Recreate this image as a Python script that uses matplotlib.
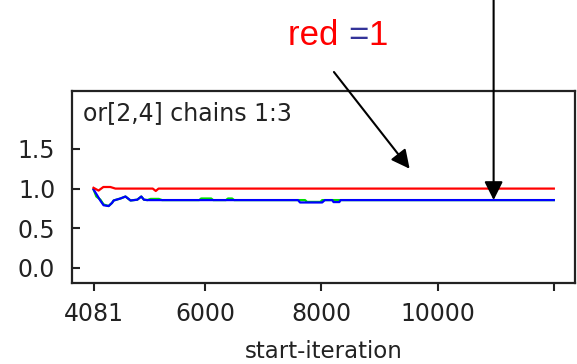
import matplotlib.pyplot as plt

plt.rcParams['font.family'] = ['DejaVu Sans']

# chain 1 (red)
red_x = [4081, 4168, 4250, 4371, 4458, 5100, 5152, 5200, 12000]
red_y = [1.01, 0.975, 1.02, 1.02, 1.0, 1.0, 0.97, 1.0, 1.0]

# chain 2 (green) - mostly hidden under blue
green_x = [4081, 4130, 4200, 4254, 4341, 4400, 4428, 4544, 4631, 4718, 4834,
           4903, 4948, 5007, 5065, 5205, 5260, 5900, 5933, 6106, 6140, 6360,
           6395, 6465, 6500, 7720, 7754, 7985, 8015, 12000]
green_y = [0.99, 0.90, 0.86, 0.80, 0.78, 0.82, 0.85, 0.875, 0.90, 0.85, 0.86,
           0.90, 0.86, 0.855, 0.87, 0.87, 0.855, 0.855, 0.875, 0.875, 0.855, 0.855,
           0.875, 0.875, 0.855, 0.855, 0.832, 0.832, 0.855, 0.855]

# chain 3 (blue)
blue_x = [4081, 4140, 4197, 4254, 4341, 4400, 4428, 4544, 4631, 4718, 4834,
          4903, 4948, 5007, 7600, 7633, 8015, 8060, 8187, 8210, 8310, 8332, 12000]
blue_y = [0.99, 0.92, 0.85, 0.79, 0.78, 0.82, 0.85, 0.875, 0.90, 0.85, 0.86,
          0.90, 0.86, 0.855, 0.855, 0.825, 0.825, 0.855, 0.855, 0.83, 0.83, 0.855, 0.855]

xticks = [4081, 6000, 8000, 10000, 12000]
xticklabels = ['4081', '6000', '8000', '10000', '']
yticks = [0.0, 0.5, 1.0, 1.5]
yticklabels = ['0.0', '0.5', '1.0', '1.5']

fig = plt.figure(figsize=(5.77, 3.64), dpi=100)
ax = fig.add_axes([72 / 577, 1 - 283 / 364, 503 / 577, 192 / 364])

ax.plot(green_x, green_y, color='#00dd00', lw=1.6)
ax.plot(blue_x, blue_y, color='#0000ff', lw=1.6)
ax.plot(red_x, red_y, color='#ff0000', lw=1.6)

ax.set_xlim(3711, 12364)
ax.set_ylim(-0.19, 2.23)

ax.set_xticks(xticks)
ax.set_xticklabels(xticklabels)
ax.set_yticks(yticks)
ax.set_yticklabels(yticklabels)
ax.tick_params(axis='x', direction='out', length=6, width=1.5, pad=8, labelsize=17,
               colors='#222222')
ax.tick_params(axis='y', direction='in', length=6, width=1.5, pad=12, labelsize=17,
               colors='#222222')
for s in ax.spines.values():
    s.set_linewidth(1.6)
    s.set_color('#222222')

ax.text(0.022, 0.95, 'or[2,4] chains 1:3', transform=ax.transAxes, va='top', ha='left',
        fontsize=17, color='#222222')

ax.set_xlabel('start-iteration', fontsize=16.5, color='#222222')
ax.xaxis.set_label_coords(0.5, -0.298)

# "red =1" note
t1 = fig.text(288 / 577, 1 - 45 / 364, 'red ', color='#ff0000', fontsize=25, va='baseline',
              family=['Liberation Sans'])
t2 = ax.annotate('=', xy=(1, 0), xycoords=t1, color='#333399', fontsize=25, va='bottom',
                 family=['Liberation Sans'], annotation_clip=False)
ax.annotate('1', xy=(1, 0), xycoords=t2, color='#ff0000', fontsize=25, va='bottom',
            family=['Liberation Sans'], annotation_clip=False)

arrow = dict(arrowstyle='-|>,head_length=0.4,head_width=0.2', mutation_scale=28,
             lw=1.5, color='black', shrinkA=0, shrinkB=0)
ax.annotate('', xy=(9519, 1.25), xytext=(8217, 1 - 72 / 364),
            textcoords=('data', 'figure fraction'), arrowprops=arrow, annotation_clip=False)
ax.annotate('', xy=(10964, 0.855), xytext=(10964, 1.02),
            textcoords=('data', 'figure fraction'), arrowprops=arrow, annotation_clip=False)

fig.savefig('out.png', dpi=100)
